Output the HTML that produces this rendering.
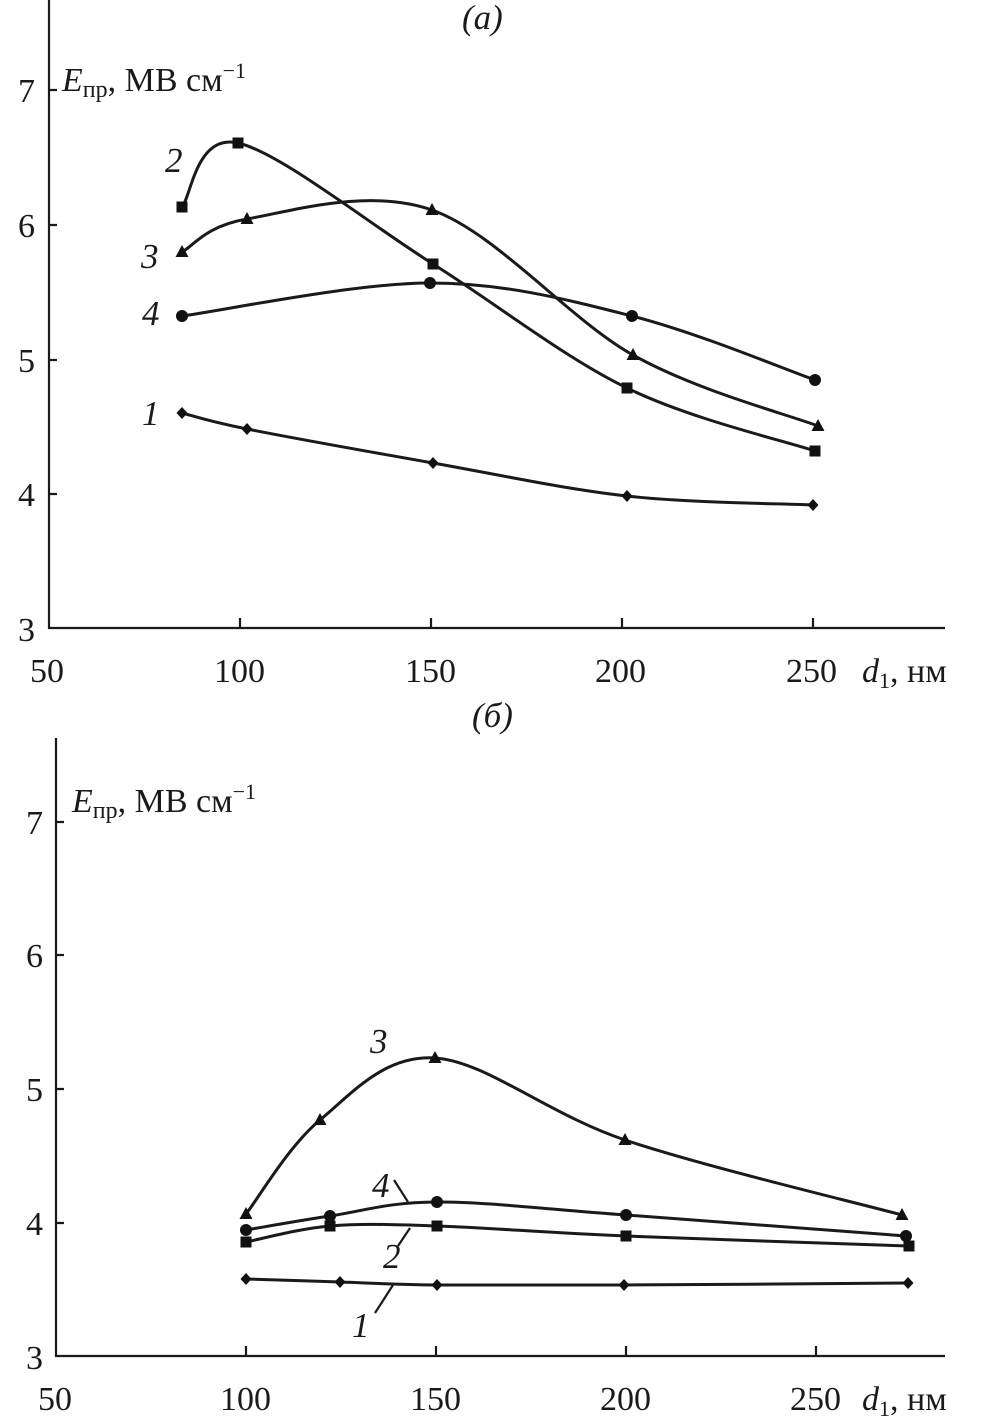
<!DOCTYPE html>
<html><head><meta charset="utf-8"><style>
html,body{margin:0;padding:0;background:#fff;}
svg{display:block;font-family:"Liberation Serif",serif;}
.t{font-size:34px;fill:#1a1a1a;}
.i{font-size:35px;font-style:italic;fill:#1a1a1a;}
.ax{stroke:#1a1a1a;stroke-width:2.2;fill:none;}
.c{stroke:#1a1a1a;stroke-width:3;fill:none;}
</style></head><body>
<svg id="s" width="983" height="1417" viewBox="0 0 983 1417">
<g id="A">
<path class="ax" d="M49,0 V628 H945"/>
<path class="ax" d="M240,628v-10M431,628v-10M622,628v-10M813,628v-10M49,90h8M49,225h8M49,360h8M49,494h8"/>
<text class="t" x="18" y="102">7</text><text class="t" x="18" y="237">6</text><text class="t" x="18" y="372">5</text><text class="t" x="18" y="506">4</text><text class="t" x="18" y="641">3</text>
<text class="t" x="30" y="682">50</text><text class="t" x="214" y="682">100</text><text class="t" x="405" y="682">150</text><text class="t" x="595" y="682">200</text><text class="t" x="786" y="682">250</text>
<text class="t" x="862" y="682"><tspan font-style="italic">d</tspan><tspan font-size="22" dy="6">1</tspan><tspan dy="-6">, нм</tspan></text>
<text class="t" x="62" y="91"><tspan font-style="italic">E</tspan><tspan font-size="24" dy="6">пр</tspan><tspan dy="-6">, МВ см</tspan><tspan font-size="22" dy="-13">−1</tspan></text>
<text class="i" x="462" y="29">(a)</text>
<text class="i" x="165" y="172">2</text><text class="i" x="141" y="268">3</text><text class="i" x="142" y="325">4</text><text class="i" x="142" y="425">1</text>
</g>
<g id="B">
<path class="ax" d="M56,738 V1356 H945"/>
<path class="ax" d="M246,1356v-10M436,1356v-10M626,1356v-10M816,1356v-10M56,822h8M56,955h8M56,1089h8M56,1223h8"/>
<text class="t" x="26" y="834">7</text><text class="t" x="26" y="967">6</text><text class="t" x="26" y="1101">5</text><text class="t" x="26" y="1235">4</text><text class="t" x="26" y="1369">3</text>
<text class="t" x="38" y="1410">50</text><text class="t" x="220" y="1410">100</text><text class="t" x="410" y="1410">150</text><text class="t" x="600" y="1410">200</text><text class="t" x="790" y="1410">250</text>
<text class="t" x="862" y="1410"><tspan font-style="italic">d</tspan><tspan font-size="22" dy="6">1</tspan><tspan dy="-6">, нм</tspan></text>
<text class="t" x="72" y="812"><tspan font-style="italic">E</tspan><tspan font-size="24" dy="6">пр</tspan><tspan dy="-6">, МВ см</tspan><tspan font-size="22" dy="-13">−1</tspan></text>
<text class="i" x="472" y="727">(б)</text>
<text class="i" x="370" y="1053">3</text>
<text class="i" x="372" y="1197">4</text><path class="ax" stroke-width="1.2" d="M394,1180 L408,1202"/>
<text class="i" x="383" y="1268">2</text><path class="ax" stroke-width="1.2" d="M398,1246 L410,1228"/>
<text class="i" x="352" y="1337">1</text><path class="ax" stroke-width="1.2" d="M375,1313 L393,1285"/>
</g>
<g id="curves"></g>
</svg>
<script>
var S={
a2:[[182,207],[238,143],[433,264],[627,388],[815,451],'s'],
a3:[[182,252],[247,219],[432,210],[633,355],[818,426],'t'],
a4:[[182,316],[430,283],[632,316],[815,380],'c'],
a1:[[182,413],[247,429],[433,463],[627,496],[813,505],'d'],
b3:[[246,1214],[320,1120],[435,1058],[625,1140],[902,1215],'t'],
b4:[[246,1230],[330,1216],[437,1202],[626,1215],[906,1236],'c'],
b2:[[246,1242],[330,1226],[437,1226],[626,1236],[909,1246],'s'],
b1:[[246,1279],[340,1282],[437,1285],[624,1285],[908,1283],'d']};
var g=document.getElementById('curves'),h='';
for(var k in S){var a=S[k],m=a.pop(),n=a.length,d='M'+a[0][0]+','+a[0][1];
for(var i=0;i<n-1;i++){var p0=a[i?i-1:0],p1=a[i],p2=a[i+1],p3=a[i+2<n?i+2:n-1];
var c1=[p1[0]+(p2[0]-p0[0])/6,p1[1]+(p2[1]-p0[1])/6],c2=[p2[0]-(p3[0]-p1[0])/6,p2[1]-(p3[1]-p1[1])/6];
d+=' C'+c1+' '+c2+' '+p2;}
h+='<path class="c" d="'+d+'"/>';
a.forEach(function(p){var x=p[0],y=p[1];
if(m=='s')h+='<rect x="'+(x-5.5)+'" y="'+(y-5.5)+'" width="11" height="11" fill="#111"/>';
if(m=='c')h+='<circle cx="'+x+'" cy="'+y+'" r="6" fill="#111"/>';
if(m=='t')h+='<polygon points="'+x+','+(y-7)+' '+(x+6.5)+','+(y+5)+' '+(x-6.5)+','+(y+5)+'" fill="#111"/>';
if(m=='d')h+='<polygon points="'+x+','+(y-6)+' '+(x+5.5)+','+y+' '+x+','+(y+6)+' '+(x-5.5)+','+y+'" fill="#111"/>';});}
g.innerHTML=h;
</script>
</body></html>
